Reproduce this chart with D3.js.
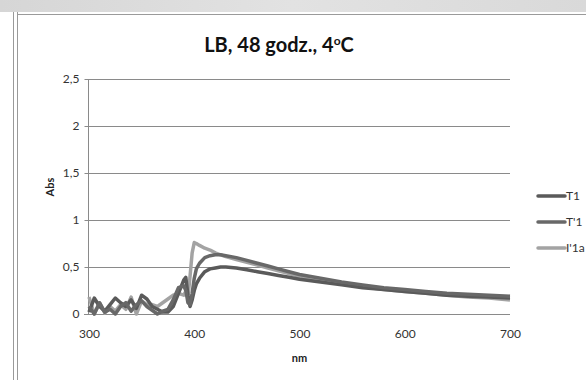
<!DOCTYPE html>
<html>
<head>
<meta charset="utf-8">
<script src="https://cdn.jsdelivr.net/npm/d3@7"></script>
<style>
  body { margin: 0; background: #fff; overflow: hidden; }
  text { font-family: Lato, "Open Sans", sans-serif; }
</style>
</head>
<body>
<script>
// wavelengths (nm)
const wl = [300, 305, 310, 315, 320, 325, 330, 335, 340, 345, 350, 355, 360, 365, 370, 375, 380, 385, 390,
  392, 394, 396, 398, 400, 402, 405, 410, 415, 420, 425, 430,
  440, 450, 460, 470, 480, 490, 500,
  520, 540, 560, 580, 600, 620, 640, 660, 680, 700];

const t1 = [0.02, 0.17, 0.08, 0.03, 0.10, 0.17, 0.12, 0.08, 0.15, 0.06, 0.20, 0.16, 0.08, 0.05, 0.02, 0.02, 0.08, 0.22, 0.36,
  0.39, 0.20, 0.08, 0.15, 0.25, 0.32, 0.38, 0.45, 0.48, 0.49, 0.50, 0.50,
  0.49, 0.47, 0.45, 0.43, 0.41, 0.39, 0.37,
  0.34, 0.31, 0.28, 0.26, 0.24, 0.22, 0.20, 0.19, 0.18, 0.17];

const t1p = [0.08, 0.00, 0.12, 0.02, 0.05, 0.00, 0.08, 0.12, 0.03, 0.10, 0.14, 0.08, 0.04, 0.00, 0.03, 0.05, 0.15, 0.28, 0.30,
  0.25, 0.12, 0.10, 0.22, 0.38, 0.48, 0.54, 0.60, 0.62, 0.63, 0.63, 0.62,
  0.60, 0.57, 0.54, 0.51, 0.48, 0.45, 0.42,
  0.38, 0.34, 0.31, 0.28, 0.26, 0.24, 0.22, 0.21, 0.20, 0.19];

const i1a = [0.18, 0.00, 0.12, 0.01, 0.08, 0.03, 0.10, 0.05, 0.18, 0.00, 0.14, 0.10, 0.10, 0.08, 0.12, 0.16, 0.20, 0.22, 0.20,
  0.24, 0.18, 0.40, 0.65, 0.76, 0.75, 0.73, 0.70, 0.68, 0.65, 0.63, 0.61,
  0.58, 0.55, 0.52, 0.49, 0.46, 0.43, 0.40,
  0.36, 0.32, 0.29, 0.26, 0.24, 0.22, 0.20, 0.18, 0.17, 0.15];

const seriesNames = ['T1', "T'1", "I'1a"];
const seriesColors = ['#5a5a5a', '#686868', '#a3a3a3'];
const xTicks = [300, 400, 500, 600, 700];
const yTicks = [0, 0.5, 1, 1.5, 2, 2.5];

const W = 586, H = 380;
const svg = d3.select('body').append('svg')
  .attr('width', W)
  .attr('height', H);

// window chrome around the chart
const grad = svg.append('defs').append('linearGradient')
  .attr('id', 'topbar').attr('x1', 0).attr('x2', 1);
grad.append('stop').attr('offset', '0%').attr('stop-color', '#d6d6d6');
grad.append('stop').attr('offset', '50%').attr('stop-color', '#e2e2e2');
grad.append('stop').attr('offset', '100%').attr('stop-color', '#d9d9d9');
svg.append('rect').attr('x', 0).attr('y', 0).attr('width', W).attr('height', 12)
  .attr('fill', 'url(#topbar)');
svg.append('line').attr('x1', 13.5).attr('x2', 13.5).attr('y1', 12).attr('y2', H)
  .attr('stroke', '#9a9a9a');
svg.append('line').attr('x1', 17.5).attr('x2', 17.5).attr('y1', 12).attr('y2', H)
  .attr('stroke', '#9a9a9a');
svg.append('line').attr('x1', 17).attr('x2', W).attr('y1', 14.5).attr('y2', 14.5)
  .attr('stroke', '#9a9a9a');

// scales
const x = d3.scaleLinear().domain([300, 700]).range([89, 510]);
const y = d3.scaleLinear().domain([0, 2.5]).range([314, 79]);

// gridlines
svg.append('g')
  .selectAll('line')
  .data(yTicks.filter(d => d > 0))
  .join('line')
  .attr('x1', x(300))
  .attr('x2', x(700))
  .attr('y1', d => Math.round(y(d)) + 0.5)
  .attr('y2', d => Math.round(y(d)) + 0.5)
  .attr('stroke', '#8a8a8a');

// Y axis
const yAxis = svg.append('g')
  .attr('transform', `translate(${x(300) - 0.5},0)`)
  .call(d3.axisLeft(y).tickValues(yTicks).tickSize(4).tickPadding(5)
    .tickFormat(d => d3.format('~g')(d).replace('.', ',')));
yAxis.select('.domain').attr('stroke', '#8a8a8a').attr('d', `M0,${y(2.5)}V${y(0)}`);
yAxis.selectAll('.tick line').attr('stroke', '#8a8a8a');
yAxis.selectAll('.tick text').attr('fill', '#333').style('font-size', '12px');

// X axis
const xAxis = svg.append('g')
  .attr('transform', `translate(0,${Math.round(y(0)) + 0.5})`)
  .call(d3.axisBottom(x).tickValues(xTicks).tickSize(0).tickPadding(15));
xAxis.select('.domain').attr('stroke', '#8a8a8a').attr('d', `M${x(300) - 5},0H${x(700)}`);
xAxis.selectAll('.tick text').attr('fill', '#333').style('font-size', '12px');

// series lines
const series = [t1, t1p, i1a];
const line = d3.line()
  .x((d, i) => x(wl[i]))
  .y(d => y(d));

// draw light one first, darker ones on top
[2, 0, 1].forEach((k) => {
  svg.append('path')
    .datum(series[k])
    .attr('fill', 'none')
    .attr('stroke', seriesColors[k])
    .attr('stroke-width', 3.5)
    .attr('stroke-linejoin', 'round')
    .attr('d', line);
});

// title
const title = svg.append('text')
  .attr('x', 279)
  .attr('y', 52)
  .attr('text-anchor', 'middle')
  .style('font-size', '20px')
  .style('font-weight', 'bold')
  .attr('fill', '#111');
title.append('tspan').text('LB, 48 godz., 4');
title.append('tspan').attr('dy', -7).style('font-size', '12px').text('o');
title.append('tspan').attr('dy', 7).text('C');

// axis titles
svg.append('text')
  .attr('x', x(500))
  .attr('y', 362)
  .attr('text-anchor', 'middle')
  .style('font-size', '11px')
  .style('font-weight', 'bold')
  .attr('fill', '#222')
  .text('nm');

svg.append('text')
  .attr('transform', `translate(54,${y(1.35)}) rotate(-90)`)
  .attr('text-anchor', 'middle')
  .style('font-size', '11px')
  .style('font-weight', 'bold')
  .attr('fill', '#222')
  .text('Abs');

// legend
const legend = svg.append('g');
seriesNames.forEach((name, i) => {
  const ly = 196 + i * 26;
  legend.append('line')
    .attr('x1', 538).attr('x2', 565)
    .attr('y1', ly).attr('y2', ly)
    .attr('stroke', seriesColors[i])
    .attr('stroke-width', 3.5)
    .attr('stroke-linecap', 'round');
  legend.append('text')
    .attr('x', 566)
    .attr('y', ly + 4)
    .style('font-size', '12px')
    .attr('fill', '#333')
    .text(name);
});
</script>
</body>
</html>
